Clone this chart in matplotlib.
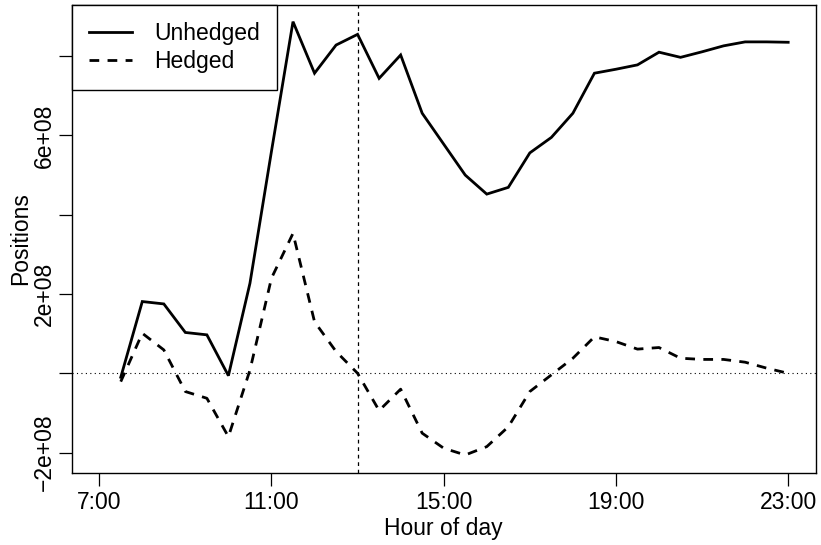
import matplotlib
matplotlib.use("Agg")
import matplotlib.pyplot as plt

# half-hourly positions over the trading day
times = ["7:30", "8:00", "8:30", "9:00", "9:30", "10:00", "10:30", "11:00",
         "11:30", "12:00", "12:30", "13:00", "13:30", "14:00", "14:30", "15:00",
         "15:30", "16:00", "16:30", "17:00", "17:30", "18:00", "18:30", "19:00",
         "19:30", "20:00", "20:30", "21:00", "21:30", "22:00", "22:30", "23:00"]
unhedged = [-0.10, 1.81, 1.75, 1.03, 0.97, -0.06, 2.27, 5.60,
            8.87, 7.57, 8.28, 8.55, 7.44, 8.03, 6.56, 5.78,
            5.00, 4.52, 4.69, 5.56, 5.95, 6.56, 7.57, 7.67,
            7.78, 8.10, 7.97, 8.11, 8.26, 8.36, 8.36, 8.35]
hedged = [-0.21, 1.01, 0.59, -0.46, -0.63, -1.60, 0.08, 2.40,
          3.53, 1.30, 0.55, 0.00, -0.94, -0.40, -1.51, -1.89,
          -2.06, -1.85, -1.35, -0.46, -0.04, 0.38, 0.92, 0.80,
          0.61, 0.65, 0.38, 0.35, 0.35, 0.28, 0.13, 0.00]
scale = 1e8
cutoff = "13:00"
hour_ticks = ["7:00", "11:00", "15:00", "19:00", "23:00"]
pos_ticks = [-2e8, 0, 2e8, 4e8, 6e8, 8e8]
pos_labels = ["\u22122e+08", "", "2e+08", "", "6e+08", ""]


def to_hours(t):
    h, m = t.split(":")
    return int(h) + int(m) / 60.0


plt.rcParams['font.family'] = ['Liberation Sans', 'DejaVu Sans']
plt.rcParams['font.size'] = 16.5

x = [to_hours(t) for t in times]
fig = plt.figure(figsize=(8.21, 5.45), dpi=100)
ax = fig.add_axes([0.0873, 0.1321, 0.9063, 0.8587])

ax.plot(x, [v * scale for v in unhedged], color='black', lw=2.0,
        solid_joinstyle='miter', label='Unhedged')
ax.plot(x, [v * scale for v in hedged], color='black', lw=2.0,
        dashes=(3.5, 3.0), label='Hedged')
ax.axhline(0, color='black', lw=0.8, linestyle=(0, (1, 3)))
ax.axvline(to_hours(cutoff), color='black', lw=0.9, dashes=(3, 3))

ax.set_xlim(6.36, 23.64)
ax.set_ylim(-2.515e8, 9.29e8)
ax.set_xticks([to_hours(t) for t in hour_ticks])
ax.set_xticklabels(hour_ticks)
ax.set_yticks(pos_ticks)
ax.set_yticklabels(pos_labels, rotation=90, va='center')
ax.tick_params(direction='out', length=9.5, width=0.9, pad=2)
ax.tick_params(axis='x', pad=3.5)
for s in ax.spines.values():
    s.set_linewidth(1.0)

ax.set_xlabel('Hour of day', labelpad=2)
ax.set_ylabel('Positions', labelpad=0.5)

leg = ax.legend(loc='upper left', borderaxespad=0, fancybox=False,
                edgecolor='black', framealpha=1, handlelength=1.9,
                handletextpad=0.95, borderpad=0.75, labelspacing=0.22)
leg.get_frame().set_linewidth(1.0)

plt.savefig('out.png', dpi=100)
